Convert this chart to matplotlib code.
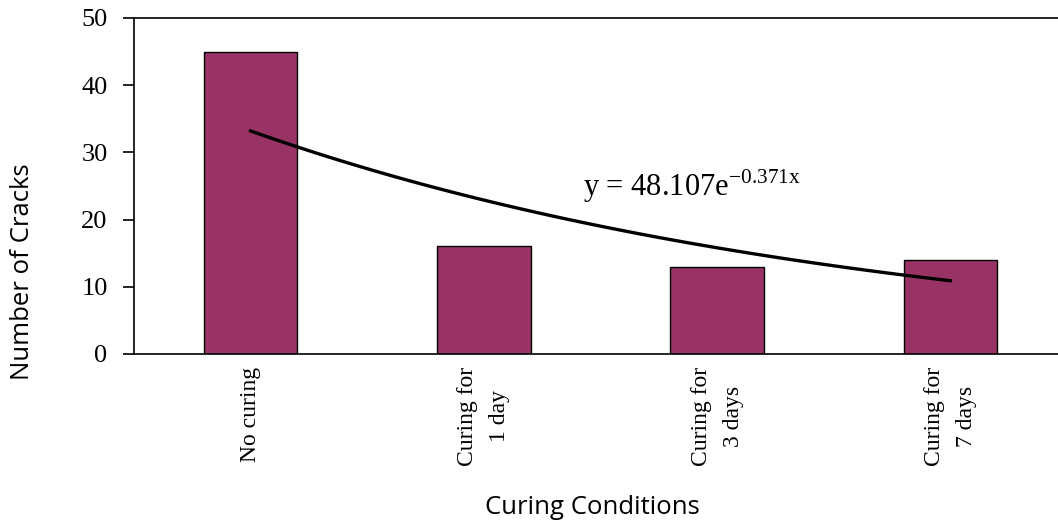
import numpy as np
import matplotlib.pyplot as plt

# === DATA ===
categories = ["No curing", "Curing for\n1 day", "Curing for\n3 days", "Curing for\n7 days"]
cracks = [45, 16, 13, 14]
y_ticks = [0, 10, 20, 30, 40, 50]

# exponential trendline (least squares on log values, same as Excel)
x_idx = np.arange(1, len(cracks) + 1)
slope, intercept = np.polyfit(x_idx, np.log(cracks), 1)
a = np.exp(intercept)
x_fit = np.linspace(1, len(cracks), 100)
y_fit = a * np.exp(slope * x_fit)

plt.rcParams["mathtext.fontset"] = "custom"
plt.rcParams["mathtext.rm"] = "Liberation Serif"

W, H = 1058, 525
fig = plt.figure(figsize=(W / 100, H / 100), dpi=100)
ax = fig.add_axes([134 / W, 1 - 354 / H, 933 / W, 336 / H])

pos = np.arange(len(categories))
ax.bar(pos, cracks, width=0.4, color="#993366", edgecolor="black", linewidth=1.0, zorder=2)
ax.plot(x_fit - 1, y_fit, color="black", linewidth=2.4, zorder=3)

ax.text(1.425, 25.0, r"y = %.3fe$^{\mathrm{%.3fx}}$" % (a, slope),
        fontfamily="Liberation Serif", fontsize=22, ha="left", va="center")

ax.set_xlim(-0.5, len(categories) - 0.5)
ax.set_ylim(0, 50)
ax.set_yticks(y_ticks)
ax.set_xticks(pos)
ax.set_xticklabels(categories, rotation=90, multialignment="center", linespacing=1.7,
                   fontfamily="Liberation Serif", fontsize=17, va="top")
for lbl in ax.get_yticklabels():
    lbl.set_fontfamily("Liberation Serif")
ax.tick_params(axis="y", direction="out", length=8, width=1.2, pad=11, labelsize=19)
ax.tick_params(axis="x", length=0, pad=9)

for s in ["left", "top", "bottom"]:
    ax.spines[s].set_linewidth(1.2)
ax.spines["right"].set_visible(False)

fig.text(23 / W, 1 - 272 / H, "Number of Cracks", rotation=90, ha="center", va="center",
         fontfamily="Open Sans", fontsize=18.5)
fig.text(592 / W, 1 - 508 / H, "Curing Conditions", ha="center", va="center",
         fontfamily="Open Sans", fontsize=18.5)

fig.savefig("out.png", dpi=100)
